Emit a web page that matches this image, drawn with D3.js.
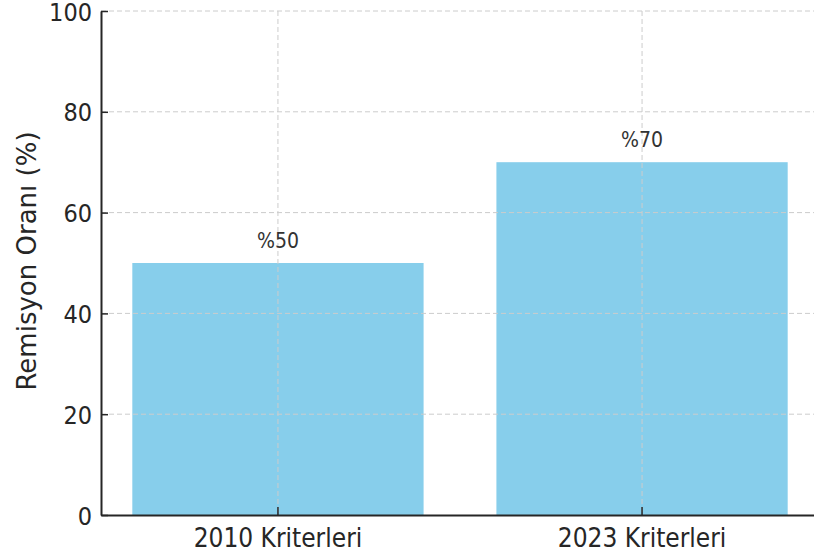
<!DOCTYPE html>
<html>
<head>
<meta charset="utf-8">
<script src="https://cdn.jsdelivr.net/npm/d3@7"></script>
<style>
  html, body { margin: 0; padding: 0; background: #fff; }
  svg { display: block; }
</style>
</head>
<body>
<svg id="chart" width="814" height="560"></svg>
<script>
const categories = ["2010 Kriterleri", "2023 Kriterleri"];
const values = [50, 70];
const valueLabels = ["%50", "%70"];
const yTicks = [0, 20, 40, 60, 80, 100];
const yAxisTitle = "Remisyon Oranı (%)";

const svg = d3.select("#chart");
const plotLeft = 101, plotRight = 819, plotTop = 11, plotBottom = 515;

const x = d3.scaleBand().domain(categories).range([plotLeft, plotRight])
  .paddingInner(0.2).paddingOuter(0.086);
const y = d3.scaleLinear().domain([0, 100]).range([plotBottom, plotTop]);

const ink = "#262626";
const condensed = "'DejaVu Sans Condensed', 'DejaVu Sans', sans-serif";
const normal = "'DejaVu Sans', sans-serif";

// bars
svg.append("g").selectAll("rect").data(categories).join("rect")
  .attr("x", d => x(d))
  .attr("width", x.bandwidth())
  .attr("y", (d, i) => y(values[i]))
  .attr("height", (d, i) => y(0) - y(values[i]))
  .attr("fill", "#87CEEB");

// grid (on top of bars)
const grid = svg.append("g").attr("stroke", "#cccccc").attr("stroke-width", 1)
  .attr("stroke-dasharray", "5,3").attr("fill", "none");
grid.selectAll(".gy").data(yTicks.filter(t => t > 0)).join("line")
  .attr("x1", plotLeft).attr("x2", 814)
  .attr("y1", d => y(d)).attr("y2", d => y(d));
grid.selectAll(".gx").data(categories).join("line")
  .attr("x1", d => x(d) + x.bandwidth() / 2).attr("x2", d => x(d) + x.bandwidth() / 2)
  .attr("y1", plotTop).attr("y2", plotBottom);

// y axis
const yAxis = d3.axisLeft(y).tickValues(yTicks).tickSizeInner(-7).tickSizeOuter(0).tickPadding(9);
const gy = svg.append("g").attr("transform", `translate(${plotLeft},0)`).call(yAxis);
gy.select(".domain").attr("stroke", ink).attr("stroke-width", 2);
gy.selectAll(".tick line").attr("stroke", ink).attr("stroke-width", 1.5);
gy.selectAll(".tick text").attr("fill", ink).attr("font-family", condensed)
  .attr("font-stretch", "condensed").attr("font-size", 25).attr("dy", "0.36em");

// x axis
const xAxis = d3.axisBottom(x).tickSizeInner(-8).tickSizeOuter(0).tickPadding(14);
const gx = svg.append("g").attr("transform", `translate(0,${plotBottom})`).call(xAxis);
gx.select(".domain").attr("stroke", ink).attr("stroke-width", 2);
gx.selectAll(".tick line").attr("stroke", ink).attr("stroke-width", 1.5);
gx.selectAll(".tick text").attr("fill", ink).attr("font-family", condensed)
  .attr("font-stretch", "condensed").attr("font-size", 26).attr("dy", "0.71em");

// value labels
svg.append("g").selectAll("text").data(categories).join("text")
  .attr("x", d => x(d) + x.bandwidth() / 2)
  .attr("y", (d, i) => y(values[i] + 3))
  .attr("text-anchor", "middle")
  .attr("font-family", condensed).attr("font-stretch", "condensed")
  .attr("font-size", 21).attr("fill", "#333333")
  .text((d, i) => valueLabels[i]);

// y axis title
svg.append("text")
  .attr("transform", `translate(36,261) rotate(-90)`)
  .attr("text-anchor", "middle")
  .attr("font-family", normal).attr("font-size", 26).attr("fill", ink)
  .text(yAxisTitle);
</script>
</body>
</html>
